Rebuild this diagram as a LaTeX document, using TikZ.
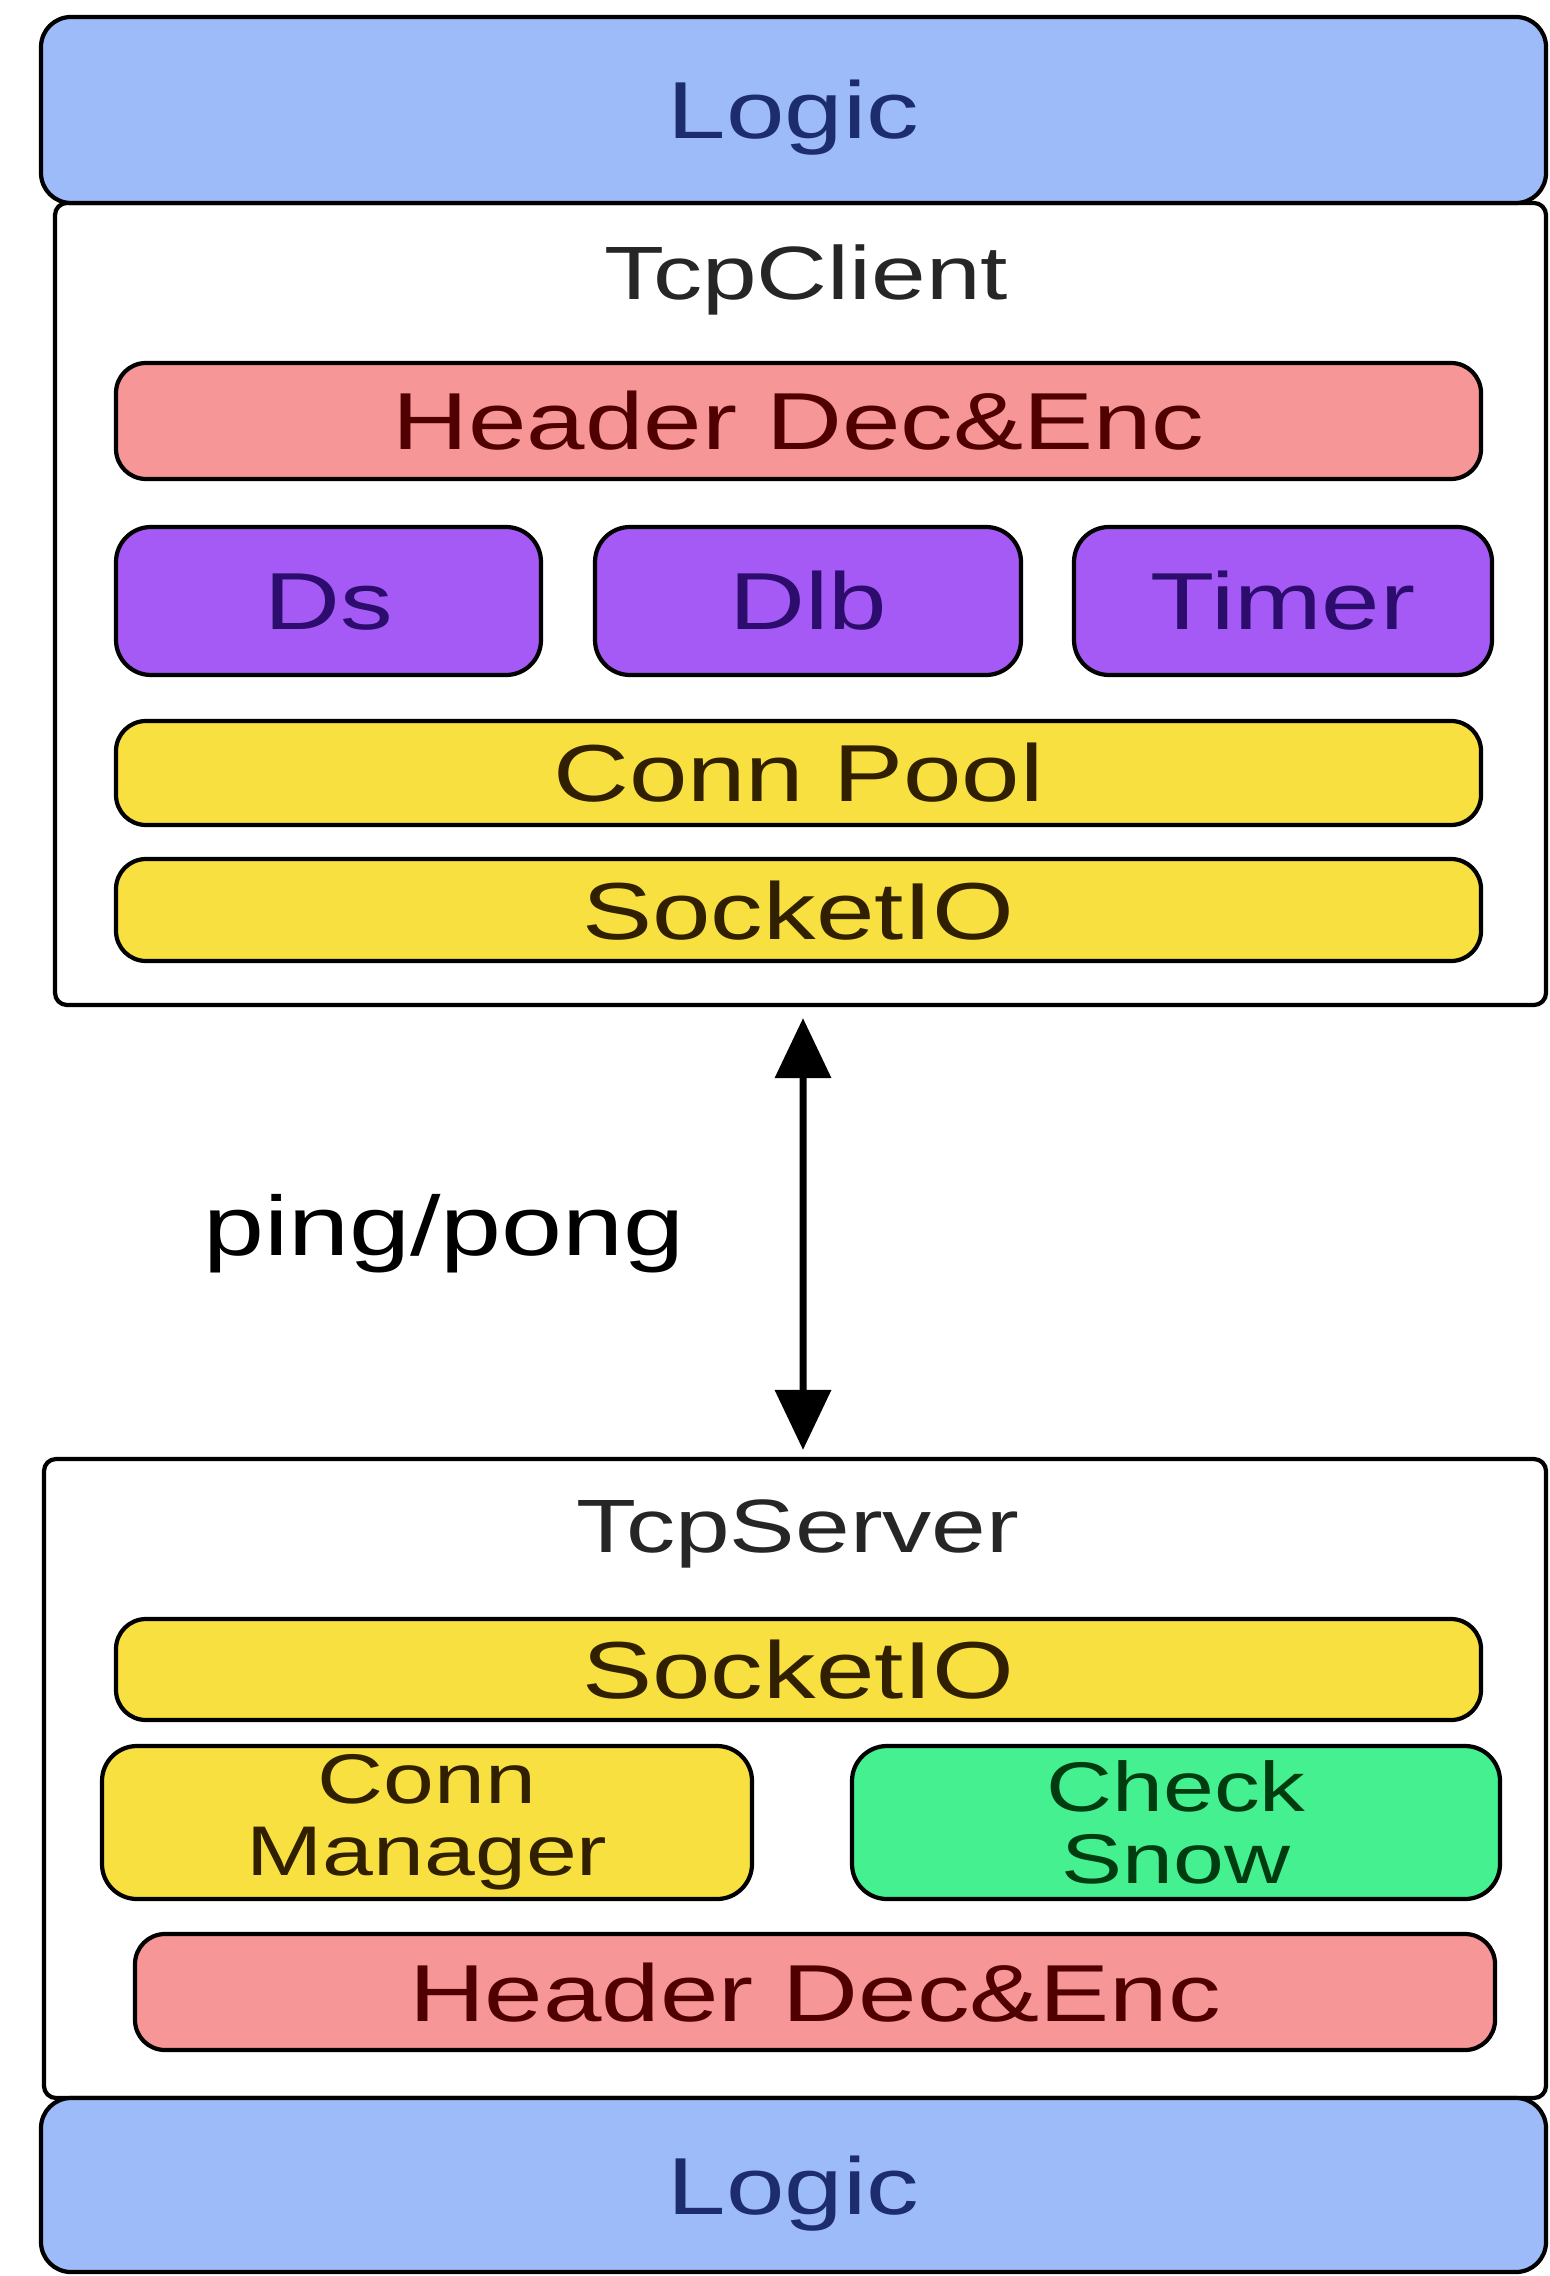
\documentclass[tikz,border=0pt]{standalone}
\usepackage{fontspec}
\setmainfont{Liberation Sans}[FakeStretch=1.3]
\usetikzlibrary{arrows.meta}

% layer colours
\definecolor{logicblue}{HTML}{9CBBF8}
\definecolor{logicink}{HTML}{1C2C6C}
\definecolor{hdrpink}{HTML}{F79696}
\definecolor{hdrink}{HTML}{500000}
\definecolor{modpurple}{HTML}{A65AF5}
\definecolor{modink}{HTML}{2C0C6C}
\definecolor{ioyellow}{HTML}{F8E040}
\definecolor{ioink}{HTML}{302000}
\definecolor{snowgreen}{HTML}{44F090}
\definecolor{snowink}{HTML}{003C10}

\tikzset{
  layer/.style={draw=black, line width=1.2pt, rounded corners=0.3cm, inner sep=0pt,
    align=center, font=\fontsize{23}{23}\selectfont, text height=0.58cm, text depth=0cm},
  logicbox/.style={layer, fill=logicblue, text=logicink},
  hdrbox/.style={layer, fill=hdrpink, text=hdrink},
  modbox/.style={layer, fill=modpurple, text=modink, rounded corners=0.35cm},
  iobox/.style={layer, fill=ioyellow, text=ioink},
  twoline/.style={draw=black, line width=1.2pt, rounded corners=0.35cm, inner sep=0pt,
    align=center, font=\fontsize{20}{20.5}\selectfont},
  hostbox/.style={draw=black, line width=1.2pt, rounded corners=0.12cm, fill=white},
  hostname/.style={font=\fontsize{21.5}{21.5}\selectfont, text=black!85, inner sep=0pt},
  beat/.style={line width=2pt, {Triangle[width=0.55cm,length=0.6cm]}-{Triangle[width=0.55cm,length=0.6cm]}},
}

\begin{document}
\begin{tikzpicture}
\useasboundingbox (0,0) rectangle (15.49,-22.76);

% client side
\node[hostbox, minimum width=14.91cm, minimum height=8.02cm] (client) at (8.005,-6.04) {};
\node[hostname] (clientname) at (8.06,-2.80) {TcpClient};
\node[logicbox, minimum width=15.05cm, minimum height=1.86cm] (logictop) at (7.935,-1.10) {Logic};
\node[hdrbox, minimum width=13.65cm, minimum height=1.16cm] (hdrc) at (7.985,-4.21) {Header Dec\&Enc};
\node[modbox, minimum width=4.25cm, minimum height=1.48cm] (ds) at (3.285,-6.01) {Ds};
\node[modbox, minimum width=4.26cm, minimum height=1.48cm] (dlb) at (8.08,-6.01) {Dlb};
\node[modbox, minimum width=4.18cm, minimum height=1.48cm] (timer) at (12.83,-6.01) {Timer};
\node[iobox, minimum width=13.65cm, minimum height=1.04cm] (pool) at (7.985,-7.73) {Conn Pool};
\node[iobox, minimum width=13.65cm, minimum height=1.02cm] (sockc) at (7.985,-9.10) {SocketIO};

% server side
\node[hostbox, minimum width=15.02cm, minimum height=6.39cm] (server) at (7.95,-17.785) {};
\node[hostname] (servername) at (7.98,-15.34) {TcpServer};
\node[iobox, minimum width=13.65cm, minimum height=1.01cm] (socks) at (7.985,-16.695) {SocketIO};
\node[twoline, fill=ioyellow, text=ioink, minimum width=6.50cm, minimum height=1.53cm] (connmgr) at (4.27,-18.225) {Conn\\Manager};
\node[twoline, fill=snowgreen, text=snowink, minimum width=6.48cm, minimum height=1.53cm] (snow) at (11.76,-18.225) {Check\\Snow};
\node[hdrbox, minimum width=13.60cm, minimum height=1.16cm] (hdrs) at (8.15,-19.92) {Header Dec\&Enc};
\node[logicbox, minimum width=15.05cm, minimum height=1.74cm] (logicbot) at (7.935,-21.85) {Logic};

% heartbeat between the two
\draw[beat] ([xshift=0.25mm,yshift=-1.1mm]client.south) -- ([xshift=0.8mm,yshift=0.7mm]server.north);
\node[font=\fontsize{24}{24}\selectfont, inner sep=0pt] (pinglbl) at (4.44,-12.34) {ping/pong};
\end{tikzpicture}
\end{document}
